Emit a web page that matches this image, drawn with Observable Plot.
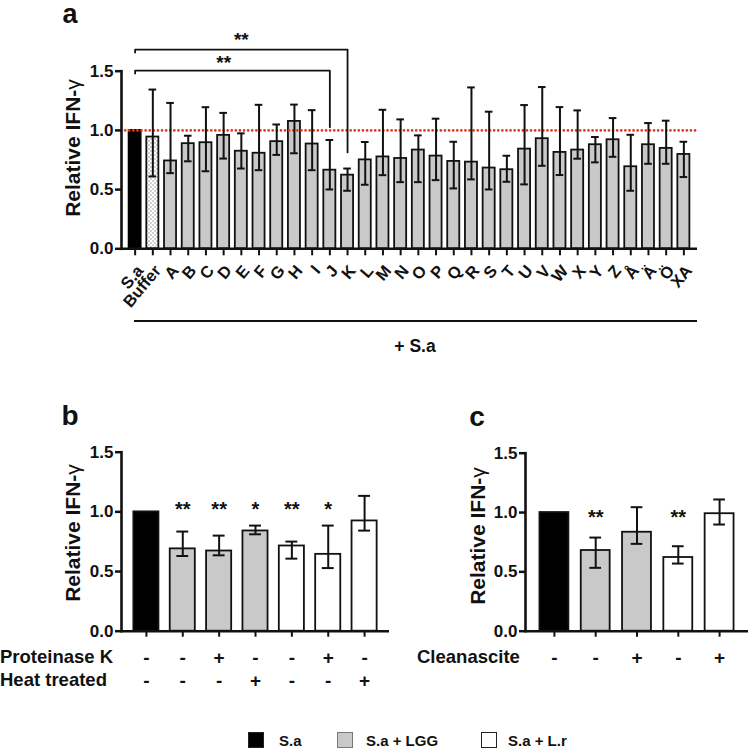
<!DOCTYPE html>
<html><head><meta charset="utf-8">
<script src="https://cdn.jsdelivr.net/npm/d3@7"></script>
<script src="https://cdn.jsdelivr.net/npm/@observablehq/plot@0.6"></script>
<style>
body{margin:0;background:#fff;}
#fig{position:relative;width:750px;height:751px;overflow:hidden;font-family:"Liberation Sans",Arial,sans-serif;font-weight:bold;color:#111;}
#fig svg{position:absolute;overflow:visible;max-width:none !important;}
.t{position:absolute;white-space:nowrap;line-height:1;}
.sq{position:absolute;width:16px;height:16px;box-sizing:border-box;border:1px solid #222;}
</style></head>
<body><div id="fig"></div>
<script>
// ---------- Panel a data ----------
const catsA = ["S.a","Buffer","A","B","C","D","E","F","G","H","I","J","K","L","M","N","O","P","Q","R","S","T","U","V","W","X","Y","Z","Å","Ä","Ö","XA"];
const kindA = ["S.a","Buffer","LGG","LGG","LGG","LGG","LGG","LGG","LGG","LGG","LGG","LGG","LGG","LGG","LGG","LGG","LGG","LGG","LGG","LGG","LGG","LGG","LGG","LGG","LGG","LGG","LGG","LGG","LGG","LGG","LGG","LGG"];
const meanA = [1.00,0.944,0.742,0.888,0.896,0.958,0.824,0.807,0.905,1.076,0.885,0.664,0.622,0.751,0.776,0.763,0.834,0.783,0.738,0.732,0.682,0.668,0.842,0.930,0.814,0.834,0.879,0.921,0.693,0.879,0.848,0.797];
const hiA = [null,1.345,1.232,0.955,1.196,1.148,0.975,1.216,1.050,1.218,1.171,0.919,0.678,0.902,1.174,1.093,0.958,1.099,0.904,1.363,1.158,0.786,1.214,1.366,1.197,1.169,0.944,1.104,0.963,1.062,1.082,0.904];
const loA = [null,0.611,0.639,0.739,0.655,0.762,0.678,0.664,0.793,0.807,0.664,0.501,0.490,0.541,0.622,0.563,0.563,0.580,0.510,0.586,0.501,0.566,0.544,0.701,0.623,0.761,0.730,0.777,0.490,0.718,0.718,0.606];
// significance brackets
const sigFrom = ["S.a","S.a"];
const sigTo = ["K","J"];
const sigLevel = [1.683,1.505];
const sigDrop = [0.814,1.027];
const sigLabel = ["**","**"];
const sigLabelLevel = [1.768,1.573];
const refLevel = 1.0;

// ---------- Panel b data ----------
const condB = ["S.a","S.a + LGG","S.a + LGG","S.a + LGG","S.a + L.r","S.a + L.r","S.a + L.r"];
const protB = ["-","-","+","-","-","+","-"];
const heatB = ["-","-","-","+","-","-","+"];
const meanB = [1.0,0.690,0.672,0.840,0.714,0.644,0.924];
const hiB = [null,0.835,0.801,0.885,0.751,0.885,1.134];
const loB = [null,0.630,0.636,0.812,0.608,0.529,0.843];
const starB = ["","**","**","*","**","*",""];
const starLevelB = 1.016;

// ---------- Panel c data ----------
const condC = ["S.a","S.a + LGG","S.a + LGG","S.a + L.r","S.a + L.r"];
const cleanC = ["-","-","+","-","+"];
const meanC = [1.0,0.680,0.834,0.621,0.990];
const hiC = [null,0.789,1.045,0.716,1.110];
const loC = [null,0.534,0.736,0.570,0.899];
const starC = ["","**","","**",""];
const starLevelC = 0.955;

const legendCats = ["S.a","S.a + LGG","S.a + L.r"];
const legendColors = ["#000000","#c9c9c9","#ffffff"];
const yTicks = [0,0.5,1,1.5];

const FONT = '"Liberation Sans", Arial, sans-serif';
const fig = document.getElementById("fig");
const fmt = d3.format(".1f");
const STYLE = {fontFamily: FONT, fontWeight: "bold", fontSize: "16px", background: "transparent"};
const blank = () => "";

function place(svg, id, left, top){ svg.id = id; svg.style.left = left+"px"; svg.style.top = top+"px"; fig.appendChild(svg); }
function txt(html, x, y, size, opt={}){
  const d = document.createElement("div");
  d.className = "t"; d.innerHTML = html; d.style.fontSize = size+"px";
  d.style.left = x+"px"; d.style.top = y+"px";
  d.style.transform = opt.rotate ? "translate(-50%,-50%) rotate(-90deg)" : (opt.anchor==="start" ? "translate(0,-50%)" : "translate(-50%,-50%)");
  fig.appendChild(d); return d;
}
// y tick labels drawn as a text mark through the y scale
const yLabels = () => Plot.text(yTicks, {y: d=>d, text: fmt, frameAnchor:"left", textAnchor:"end", lineAnchor:"middle", dx:-8, fontSize:17, fontWeight:"bold"});

// ---------- Panel a ----------
const dataA = catsA.map((c,i)=>({c, kind:kindA[i], v:meanA[i], hi:hiA[i], lo:loA[i]}));
const errA = dataA.filter(d=>d.hi!=null);
const brackets = sigFrom.flatMap((f,k)=>[
  {k, x:f, y:sigLevel[k]-0.025},{k, x:f, y:sigLevel[k]},{k, x:sigTo[k], y:sigLevel[k]},{k, x:sigTo[k], y:sigDrop[k]}
]);
const sigText = sigFrom.map((f,k)=>{
  const i0 = catsA.indexOf(f), i1 = catsA.indexOf(sigTo[k]);
  return {x: catsA[Math.floor((i0+i1)/2)], y: sigLabelLevel[k], t: sigLabel[k]};
});

const svgA = Plot.plot({
  width: 750, height: 310, marginTop: 70.7, marginLeft: 121, marginRight: 53, marginBottom: 61.7,
  style: STYLE,
  x: {domain: catsA, paddingInner: 0.32, paddingOuter: 0.43, round: false},
  y: {domain: [0, 1.5]},
  marks: [
    Plot.barY(dataA.filter(d=>d.kind==="S.a"), {x:"c", y:"v", fill:"#000", stroke:"#000", strokeWidth:1.8}),
    Plot.barY(dataA.filter(d=>d.kind==="Buffer"), {x:"c", y:"v", fill:"url(#checker)", stroke:"#111", strokeWidth:1.8}),
    Plot.barY(dataA.filter(d=>d.kind==="LGG"), {x:"c", y:"v", fill:"#c9c9c9", stroke:"#111", strokeWidth:1.8}),
    Plot.ruleY([refLevel], {stroke:"#e23a22", strokeWidth:2.6, strokeDasharray:"0.1 4", strokeLinecap:"round"}),
    Plot.ruleX(errA, {x:"c", y1:"lo", y2:"hi", stroke:"#111", strokeWidth:2}),
    Plot.tickY(errA, {x:"c", y:"hi", stroke:"#111", strokeWidth:2, insetLeft:2.2, insetRight:2.2}),
    Plot.tickY(errA, {x:"c", y:"lo", stroke:"#111", strokeWidth:2, insetLeft:2.2, insetRight:2.2}),
    Plot.line(brackets, {x:"x", y:"y", z:"k", stroke:"#111", strokeWidth:1.8, curve:"linear"}),
    Plot.text(sigText, {x:"x", y:"y", text:"t", fontSize:19, fontWeight:"bold", lineAnchor:"middle"}),
    Plot.axisY(yTicks, {tickFormat: blank, tickSize:6, strokeWidth:2.5, label:null}),
    yLabels(),
    Plot.axisX({tickFormat: blank, tickSize:7, strokeWidth:2, label:null}),
    Plot.text(catsA, {x: d=>d, y: ()=>0, text: d=>d, rotate:-50, textAnchor:"end", lineAnchor:"middle", dx:5, dy:19, fontSize:16.5, fontWeight:"bold"}),
    Plot.ruleY([0], {strokeWidth:2.6}),
    Plot.frame({anchor:"left", strokeWidth:2.6})
  ]
});
const defs = document.createElementNS("http://www.w3.org/2000/svg","defs");
defs.innerHTML = '<pattern id="checker" width="4" height="4" patternUnits="userSpaceOnUse"><rect width="4" height="4" fill="#ffffff"/><rect width="2" height="2" fill="#cfcfcf"/><rect x="2" y="2" width="2" height="2" fill="#cfcfcf"/></pattern>';
svgA.insertBefore(defs, svgA.firstChild);
place(svgA, "pa", 0, 0);

// ---------- Panel b ----------
const dataB = condB.map((c,i)=>({i, c, v:meanB[i], hi:hiB[i], lo:loB[i], s:starB[i], p:protB[i], h:heatB[i]}));
const errB = dataB.filter(d=>d.hi!=null);
const svgB = Plot.plot({
  width: 400, height: 320, marginTop: 71.7, marginLeft: 121, marginRight: 11, marginBottom: 69.3,
  style: STYLE,
  x: {type:"band", domain: d3.range(condB.length), paddingInner: 0.31, paddingOuter: 0.34, round: false},
  y: {domain: [0, 1.5]},
  color: {domain: legendCats, range: legendColors},
  marks: [
    Plot.barY(dataB, {x:"i", y:"v", fill:"c", stroke:"#111", strokeWidth:1.8}),
    Plot.ruleX(errB, {x:"i", y1:"lo", y2:"hi", stroke:"#111", strokeWidth:2}),
    Plot.tickY(errB, {x:"i", y:"hi", stroke:"#111", strokeWidth:2, insetLeft:6.6, insetRight:6.6}),
    Plot.tickY(errB, {x:"i", y:"lo", stroke:"#111", strokeWidth:2, insetLeft:6.6, insetRight:6.6}),
    Plot.text(dataB, {x:"i", y:()=>starLevelB, text:"s", fontSize:20, fontWeight:"bold", lineAnchor:"middle"}),
    Plot.axisY(yTicks, {tickFormat: blank, tickSize:6, strokeWidth:2.5, label:null}),
    yLabels(),
    Plot.axisX({tickFormat: blank, tickSize:6, strokeWidth:2, label:null}),
    Plot.text(dataB, {x:"i", text:"p", frameAnchor:"bottom", lineAnchor:"middle", dy:26.5, fontSize:19, fontWeight:"bold"}),
    Plot.text(dataB, {x:"i", text:"h", frameAnchor:"bottom", lineAnchor:"middle", dy:49.5, fontSize:19, fontWeight:"bold"}),
    Plot.ruleY([0], {strokeWidth:2.6}),
    Plot.frame({anchor:"left", strokeWidth:2.6})
  ]
});
place(svgB, "pb", 0, 380);

// ---------- Panel c ----------
const dataC = condC.map((c,i)=>({i, c, v:meanC[i], hi:hiC[i], lo:loC[i], s:starC[i], k:cleanC[i]}));
const errC = dataC.filter(d=>d.hi!=null);
const svgC = Plot.plot({
  width: 350, height: 320, marginTop: 72.7, marginLeft: 125, marginRight: 2, marginBottom: 69.3,
  style: STYLE,
  x: {type:"band", domain: d3.range(condC.length), paddingInner: 0.30, paddingOuter: 0.35, round: false},
  y: {domain: [0, 1.5]},
  color: {domain: legendCats, range: legendColors},
  marks: [
    Plot.barY(dataC, {x:"i", y:"v", fill:"c", stroke:"#111", strokeWidth:1.8}),
    Plot.ruleX(errC, {x:"i", y1:"lo", y2:"hi", stroke:"#111", strokeWidth:2}),
    Plot.tickY(errC, {x:"i", y:"hi", stroke:"#111", strokeWidth:2, insetLeft:8.6, insetRight:8.6}),
    Plot.tickY(errC, {x:"i", y:"lo", stroke:"#111", strokeWidth:2, insetLeft:8.6, insetRight:8.6}),
    Plot.text(dataC, {x:"i", y:()=>starLevelC, text:"s", fontSize:20, fontWeight:"bold", lineAnchor:"middle"}),
    Plot.axisY(yTicks, {tickFormat: blank, tickSize:6, strokeWidth:2.5, label:null}),
    yLabels(),
    Plot.axisX({tickFormat: blank, tickSize:6, strokeWidth:2, label:null}),
    Plot.text(dataC, {x:"i", text:"k", frameAnchor:"bottom", lineAnchor:"middle", dy:26.5, fontSize:19, fontWeight:"bold"}),
    Plot.ruleY([0], {strokeWidth:2.6}),
    Plot.frame({anchor:"left", strokeWidth:2.6})
  ]
});
place(svgC, "pc", 400, 380);

// ---------- Labels ----------
const ylab = 'Relative IFN-<span style="font-weight:normal">γ</span>';
txt("a", 70, 14, 27);
txt("b", 70, 416, 28);
txt("c", 477, 417, 28);
txt(ylab, 72, 148, 21, {rotate:true});
txt(ylab, 72, 533, 21, {rotate:true});
txt(ylab, 477, 536, 21, {rotate:true});
// line spanning the panel a groups
const bar = document.createElement("div");
bar.style.cssText = "position:absolute;left:134px;top:319.5px;width:563px;height:2.6px;background:#111;";
fig.appendChild(bar);
txt("+ S.a", 415, 347, 17.5);
txt("Proteinase K", 0, 657, 18.5, {anchor:"start"});
txt("Heat treated", 0, 680, 18.5, {anchor:"start"});
txt("Cleanascite", 417, 657, 18.5, {anchor:"start"});
// legend
const legX = [248, 337, 481], legTX = [279, 366, 508];
legendCats.forEach((c,k)=>{
  const s = document.createElement("div"); s.className="sq";
  s.style.left = legX[k]+"px"; s.style.top = (740-8)+"px"; s.style.background = legendColors[k];
  if(k===1) s.style.borderColor = "#777";
  fig.appendChild(s);
  txt(c, legTX[k], 740, 15, {anchor:"start"});
});
</script>
</body></html>
